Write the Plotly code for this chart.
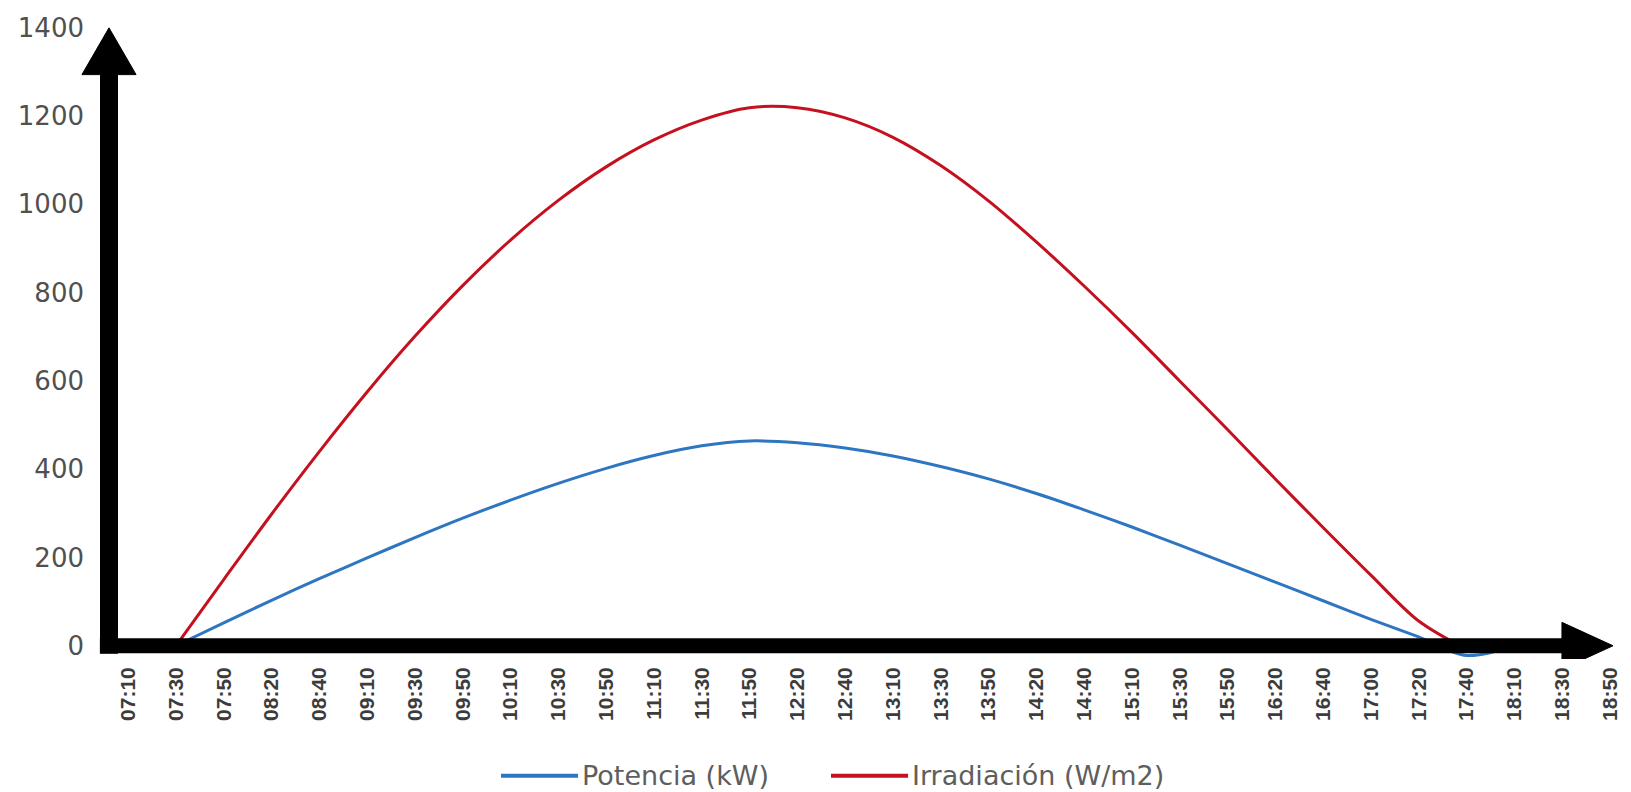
import plotly.graph_objects as go

# Hourly profile of a PV installation: output power vs. solar irradiance
time_labels = ["07:10", "07:30", "07:50", "08:20", "08:40", "09:10", "09:30", "09:50",
               "10:10", "10:30", "10:50", "11:10", "11:30", "11:50", "12:20", "12:40",
               "13:10", "13:30", "13:50", "14:20", "14:40", "15:10", "15:30", "15:50",
               "16:20", "16:40", "17:00", "17:20", "17:40", "18:10", "18:30", "18:50"]

potencia_kw = [None, 0, 52, 103, 152, 199, 245, 289, 330, 368, 402, 431, 453, 464, 460, 448,
               430, 406, 378, 345, 308, 269, 228, 186, 144, 102, 60, 20, -22, 0, None, None]

irradiacion_wm2 = [None, 0, 150, 298, 440, 575, 701, 816, 919, 1009, 1085, 1146, 1191, 1219, 1219, 1196,
                   1152, 1088, 1008, 915, 815, 710, 600, 490, 378, 268, 160, 56, -8, None, None, None]

series_names = ["Potencia (kW)", "Irradiación (W/m2)"]
series_colors = ["#2E76C2", "#C4101F"]

y_ticks = [0, 200, 400, 600, 800, 1000, 1200, 1400]

fig = go.Figure()
for name, vals, col in zip(series_names, [potencia_kw, irradiacion_wm2], series_colors):
    fig.add_trace(go.Scatter(
        x=time_labels, y=vals, name=name, mode="lines",
        line=dict(color=col, width=3, shape="spline", smoothing=0.9),
        connectgaps=False, showlegend=False,
    ))

# Thick black axes with arrowheads
shapes = [
    # vertical axis shaft
    dict(type="line", xref="paper", yref="y", x0=0, x1=0, y0=-18, y1=1300,
         line=dict(color="black", width=18)),
    # vertical arrowhead
    dict(type="path", xref="paper", yref="y",
         path="M -0.0178 1294 L 0.0178 1294 L 0 1400 Z",
         fillcolor="black", line=dict(color="black", width=1)),
    # horizontal axis shaft
    dict(type="line", xref="paper", yref="y", x0=-0.006, x1=0.958, y0=0, y1=0,
         line=dict(color="black", width=15)),
    # horizontal arrowhead
    dict(type="path", xref="paper", yref="y",
         path="M 0.9559 53 L 0.9559 -53 L 0.9895 0 Z",
         fillcolor="black", line=dict(color="black", width=1)),
]

# Legend drawn as line samples with labels beneath the chart
legend_y = -0.1825
legend_items = [(0.2579, 0.3086), (0.475, 0.5257)]
annotations = []
for (x0, x1), name, col in zip(legend_items, series_names, series_colors):
    shapes.append(dict(type="line", xref="paper", yref="paper", x0=x0, x1=x1,
                       y0=legend_y, y1=legend_y, line=dict(color=col, width=4)))
    annotations.append(dict(xref="paper", yref="paper", x=x1 + 0.001, y=legend_y,
                            text=name, showarrow=False, xanchor="left", yanchor="middle",
                            font=dict(family="DejaVu Sans", size=27, color="#5e5e5e")))

fig.update_layout(
    width=1631, height=792,
    margin=dict(l=109, r=2, t=19, b=133),
    paper_bgcolor="white", plot_bgcolor="white",
    shapes=shapes, annotations=annotations,
    xaxis=dict(
        type="category", range=[-0.4, 31.4],
        showgrid=False, zeroline=False, showline=False,
        tickangle=-90, ticks="", ticklabelstandoff=3,
        tickfont=dict(family="Liberation Sans", size=21, color="#3c3c3c", weight="bold"),
    ),
    yaxis=dict(
        range=[-30, 1420], tickvals=y_ticks,
        showgrid=False, zeroline=False, showline=False, ticks="",
        ticklabelstandoff=24,
        tickfont=dict(family="DejaVu Sans", size=26, color="#505050"),
    ),
)

fig.write_html("out.html")
